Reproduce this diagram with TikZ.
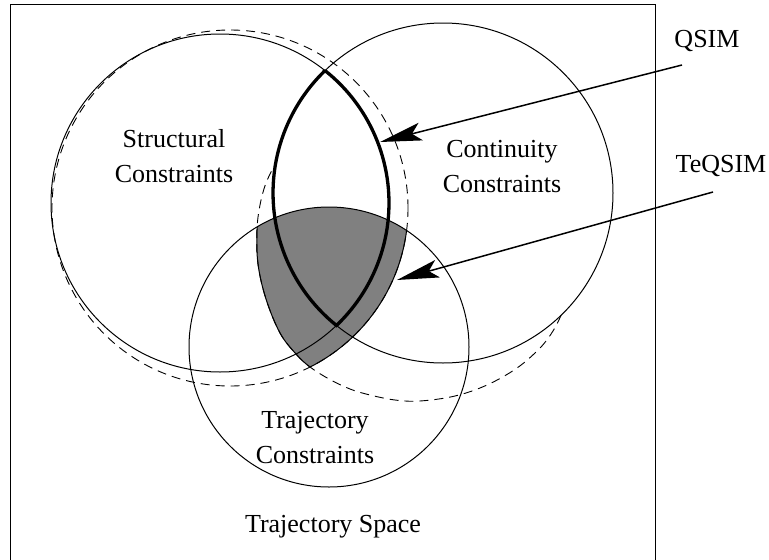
\documentclass[tikz,border=0pt]{standalone}
\usepackage{fontspec}
\setmainfont{Liberation Serif}
\usetikzlibrary{arrows.meta}

% closed outlines of the constraint regions
\def\structpath{(220,203) circle[radius=169]}
\def\contpath{(443,193) circle[radius=170]}
\def\trajpath{(329,347) circle[radius=140]}
% structural constraints widened by the trajectory constraints
\def\apath{(230,208) circle[radius=178]}
% continuity constraints widened by the trajectory constraints
\def\bbulge{plot[smooth, tension=0.6] coordinates {(561.09,315.29) (553,331) (540,348) (517,368) (487,385) (455,396) (420,401) (395,400) (370,395) (350,389) (329,379) (310,367) (296,354) (280,333) (266,299) (258,264) (257,230) (260,205) (266,183) (275.58,163.48)}}
\def\bpath{(275.58,163.48) arc[start angle=190, end angle=406, radius=170] -- plot[smooth, tension=0.6] coordinates {(561.09,315.29) (553,331) (540,348) (517,368) (487,385) (455,396) (420,401) (395,400) (370,395) (350,389) (329,379) (310,367) (296,354) (280,333) (266,299) (258,264) (257,230) (260,205) (266,183) (275.58,163.48)} -- cycle}

\begin{document}
\begin{tikzpicture}[x=1pt,y=-1pt,
  thinline/.style={line width=1pt},
  lensline/.style={line width=3.3pt},
  dashline/.style={line width=0.9pt, dash pattern=on 9pt off 6pt},
  label/.style={font=\fontsize{26}{35}\selectfont, align=center, inner sep=0pt},
  pointer/.style={line width=1.5pt, -{Stealth[length=42pt,width=18pt,inset=9pt]}},
  shade/.style={fill=black!50}]
\useasboundingbox (0,0) rectangle (769,560);

% frame of the trajectory space, open at the bottom
\draw[thinline] (10,560) -- (10,4) -- (655,4) -- (655,560);

% TeQSIM region: trajectory constraints inside both widened regions
\begin{scope}
  \clip \trajpath;
  \clip \apath;
  \fill[shade] \bpath;
\end{scope}
\begin{scope}
  \clip \trajpath;
  \clip \bpath;
  \draw[thinline] \apath;
\end{scope}
\begin{scope}
  \clip \trajpath;
  \clip \apath;
  \draw[thinline] \bpath;
\end{scope}

% widened regions
\draw[dashline] \apath;
\draw[dashline] \bbulge;

% constraint circles
\draw[thinline] \structpath;
\draw[thinline] \contpath;
\draw[thinline] \trajpath;

% QSIM region: structural and continuity constraints together
\draw[lensline] (325.04,70.60) arc[start angle=-51.57, end angle=46.44, radius=169]
  arc[start angle=128.82, end angle=226.06, radius=170] -- cycle;

% labels
\node[label] (struct) at (174,156.5) {Structural\\Constraints};
\node[label] (cont) at (502,166.5) {Continuity\\Constraints};
\node[label] (traj) at (315,437.5) {Trajectory\\Constraints};
\node[label, anchor=base] (space) at (333,532) {Trajectory Space};
\node[label, anchor=base] (qsim) at (707,47) {QSIM};
\node[label, anchor=base] (teqsim) at (721,172) {TeQSIM};

% pointers
\coordinate (qsimTail) at (682,65);
\coordinate (qsimTip) at (380,142);
\coordinate (teqsimTail) at (713,192);
\coordinate (teqsimTip) at (397,280);
\draw[pointer] (qsimTail) -- (qsimTip);
\draw[pointer] (teqsimTail) -- (teqsimTip);
\end{tikzpicture}
\end{document}
